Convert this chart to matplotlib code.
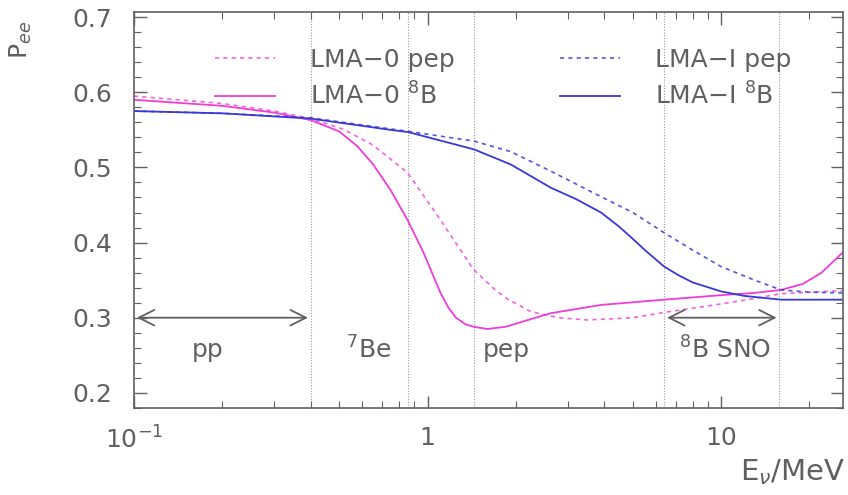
import matplotlib

matplotlib.use("Agg")
import matplotlib.pyplot as plt  # noqa: E402
from matplotlib.ticker import FixedLocator, FixedFormatter, LogLocator, MultipleLocator  # noqa: E402

# survival probability curves
e_lma0_b8 = [0.1, 0.2, 0.3, 0.4, 0.5, 0.577, 0.65, 0.748, 0.855, 0.968, 1.107, 1.18, 1.25,
             1.35, 1.435, 1.6, 1.85, 2.2, 2.63, 3.9, 6.4, 10, 13, 16, 19, 22, 26]
p_lma0_b8 = [0.59, 0.582, 0.573, 0.563, 0.548, 0.528, 0.505, 0.47, 0.43, 0.387, 0.333, 0.313,
             0.30, 0.291, 0.288, 0.285, 0.288, 0.297, 0.306, 0.317, 0.324, 0.33, 0.333, 0.337,
             0.345, 0.36, 0.387]

e_lma0_pep = [0.1, 0.2, 0.3, 0.4, 0.516, 0.65, 0.855, 1.107, 1.435, 1.7, 1.87, 2.25, 2.8, 3.5,
              5, 6.4, 9.5, 12.3, 16, 26]
p_lma0_pep = [0.595, 0.585, 0.575, 0.565, 0.551, 0.53, 0.493, 0.43, 0.364, 0.337, 0.325, 0.308,
              0.30, 0.297, 0.30, 0.307, 0.317, 0.324, 0.332, 0.336]

e_lma1_b8 = [0.1, 0.2, 0.4, 0.748, 0.86, 1.44, 1.92, 2.63, 3.2, 3.9, 4.5, 5, 5.5, 6.4, 7.2, 8,
             10, 12, 16, 26]
p_lma1_b8 = [0.575, 0.572, 0.565, 0.55, 0.547, 0.524, 0.504, 0.473, 0.458, 0.44, 0.421, 0.405,
             0.39, 0.368, 0.356, 0.347, 0.335, 0.329, 0.324, 0.324]

e_lma1_pep = [0.1, 0.2, 0.4, 0.86, 1.44, 1.92, 2.63, 3.9, 5, 6.4, 8, 10, 13, 16, 20, 26]
p_lma1_pep = [0.575, 0.572, 0.566, 0.548, 0.535, 0.521, 0.495, 0.461, 0.44, 0.413, 0.39, 0.368,
              0.35, 0.337, 0.334, 0.333]

# energy marks (MeV): pp endpoint, 7Be, pep, SNO threshold, 8B endpoint
e_marks = [0.40, 0.86, 1.44, 6.4, 15.8]
region_labels = ["pp", r"$^7$Be", "pep", r"$^8$B SNO"]
region_label_e = [0.178, 0.63, 1.85, 10.3]

GRAY = "#606060"
MAGENTA = "#f03cd8"
BLUE = "#3838d8"
FS = 18

plt.rcParams["font.family"] = "DejaVu Sans"

fig = plt.figure(figsize=(8.48, 4.95), dpi=100)
ax = fig.add_axes([0.158, 0.176, 0.836, 0.8])

for e in e_marks:
    ax.axvline(e, color="#999999", lw=0.8, ls=(0, (1, 1.5)), zorder=1)

ax.plot(e_lma0_pep, p_lma0_pep, color=MAGENTA, lw=1.2, ls=(0, (2.5, 2.5)), alpha=0.8,
        label="LMA\u22120 pep")
ax.plot(e_lma0_b8, p_lma0_b8, color=MAGENTA, lw=1.3, label=r"LMA$-$0 $^8$B")
ax.plot(e_lma1_pep, p_lma1_pep, color=BLUE, lw=1.2, ls=(0, (2.5, 2.5)), alpha=0.85,
        label="LMA\u2212I pep")
ax.plot(e_lma1_b8, p_lma1_b8, color=BLUE, lw=1.3, label=r"LMA$-$I $^8$B")

arrow = dict(arrowstyle="<->", color=GRAY, lw=1.3, mutation_scale=28)
ax.annotate("", xy=(e_marks[0], 0.3), xytext=(0.1, 0.3), arrowprops=arrow)
ax.annotate("", xy=(e_marks[4], 0.3), xytext=(e_marks[3], 0.3), arrowprops=arrow)

for lab, e in zip(region_labels, region_label_e):
    ax.text(e, 0.257, lab, color=GRAY, fontsize=FS, ha="center", va="center")

ax.set_xscale("log")
ax.set_xlim(0.1, 26)
ax.set_ylim(0.18, 0.707)
ax.xaxis.set_major_locator(FixedLocator([0.1, 1, 10]))
ax.xaxis.set_major_formatter(FixedFormatter([r"$10^{-1}$", "1", "10"]))
ax.xaxis.set_minor_locator(LogLocator(base=10, subs=range(2, 10)))
ax.yaxis.set_major_locator(MultipleLocator(0.1))
ax.yaxis.set_minor_locator(MultipleLocator(0.02))
ax.tick_params(which="both", direction="in", top=True, right=True, colors=GRAY,
               labelsize=FS, labelcolor=GRAY)
ax.tick_params(which="major", length=9, width=1)
ax.tick_params(which="minor", length=5, width=0.8)
ax.tick_params(axis="x", which="major", pad=13)
ax.tick_params(axis="y", which="major", pad=16)
for sp in ax.spines.values():
    sp.set_color(GRAY)
    sp.set_linewidth(1.2)

leg = ax.legend(ncol=2, loc="upper left", bbox_to_anchor=(0.114, 0.91), frameon=False,
                fontsize=FS, handlelength=2.4, columnspacing=4.2, labelspacing=0.45,
                handletextpad=1.4, borderpad=0, borderaxespad=0)
for t in leg.get_texts():
    t.set_color(GRAY)

fig.text(0.025, 0.92, r"P$_{ee}$", rotation=90, color=GRAY, fontsize=FS,
         ha="center", va="center")
fig.text(0.997, 0.047, r"E$_{\nu}$/MeV", color=GRAY, fontsize=21, ha="right", va="center")

fig.savefig("out.png", dpi=100)
plt.close(fig)
